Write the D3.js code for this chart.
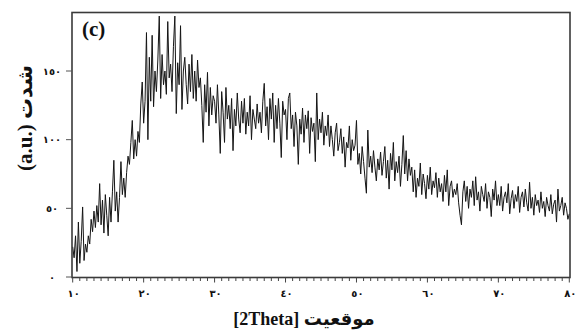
<!DOCTYPE html>
<html><head><meta charset="utf-8">
<script src="https://cdn.jsdelivr.net/npm/d3@7"></script>
<style>body{margin:0;background:#fff}svg{display:block}</style>
</head><body>
<svg id="c" width="577" height="334"></svg>
<script>
// 2Theta sampling grid (degrees) and measured intensity (a.u.)
const angleStart = 10, angleStep = 0.2;
const intensity = [
  22,14,30,4,40,10,26,51,12,24,
  18,30,24,42,33,48,36,52,40,68,
  38,56,32,60,45,30,58,40,62,85,
  48,62,40,58,84,60,72,58,76,88,
  82,98,114,86,100,88,106,98,126,142,
  112,128,178,100,160,128,176,124,150,135,
  158,190,130,162,140,150,133,186,145,155,
  135,168,190,119,156,140,183,122,150,160,
  140,126,155,135,162,130,150,128,158,138,
  145,125,98,140,120,149,110,138,118,132,
  128,112,140,118,90,135,120,98,138,115,
  125,108,130,92,122,110,134,115,105,128,
  112,130,104,120,110,132,100,122,115,108,
  126,112,120,105,128,141,110,124,100,130,
  115,134,98,125,108,130,112,87,128,118,
  122,100,130,134,108,118,95,120,110,82,
  115,104,123,98,118,108,121,90,116,106,
  112,84,134,100,115,105,120,96,110,103,
  118,95,110,100,88,105,112,92,98,108,
  90,102,80,98,94,110,85,100,92,96,
  114,82,90,75,95,84,72,61,107,80,
  88,76,92,80,70,86,78,91,74,84,
  95,72,85,64,90,78,98,70,84,76,
  88,66,82,103,75,92,70,86,74,80,
  62,78,58,72,66,83,60,75,68,57,
  74,64,80,60,70,65,76,58,72,62,
  68,55,74,62,78,52,66,70,58,64,
  60,68,54,45,38,62,70,55,66,50,
  64,58,70,52,73,56,62,48,66,60,
  55,68,50,62,58,44,64,56,70,52,
  60,52,66,48,58,62,54,68,46,57,
  63,50,60,55,66,47,58,62,51,64,
  54,48,69,50,58,45,60,52,56,47,
  62,50,55,44,58,52,48,60,46,53,
  56,40,64,48,52,58,45,54,50,42,
  46
];
const xTicks = [10,20,30,40,50,60,70,80];
const xTickLabels = ["١٠","٢٠","٣٠","٤٠","٥٠","٦٠","٧٠","٨٠"];
const yTicks = [0,50,100,150];
const yTickLabels = ["٠","٥٠","١٠٠","١٥٠"];
const panelLabel = "(c)";
const xTitle = "[2Theta] موقعیت";
const yTitle = "(a.u.) شدت";

const data = intensity.map((v,i)=>({x: angleStart + i*angleStep, y: v}));

const svg = d3.select("#c");
const L = 72, R = 570, T = 12.5, B = 277.5;
const x = d3.scaleLinear().domain([10,80]).range([72.7,569.3]);
const y = d3.scaleLinear().domain([0,150]).range([277,71]);

// data line
svg.append("path").datum(data)
  .attr("fill","none").attr("stroke","#151515").attr("stroke-width",1)
  .attr("d", d3.line().x(d=>x(d.x)).y(d=>y(d.y)));

// frame
svg.append("rect").attr("x",L).attr("y",T).attr("width",R-L).attr("height",B-T)
  .attr("fill","none").attr("stroke","#3a3a3a").attr("stroke-width",1.6);

// x axis ticks (minor every 1 deg)
const minor = d3.range(10,80.01,1);
svg.append("g").selectAll("line").data(minor).join("line")
  .attr("x1",d=>x(d)).attr("x2",d=>x(d))
  .attr("y1",B).attr("y2",d=> d%10===0 ? B+5 : B+3.5)
  .attr("stroke","#444").attr("stroke-width",1);
svg.append("g").selectAll("text").data(xTicks).join("text")
  .attr("x",d=>x(d)+1).attr("y",297)
  .attr("text-anchor","middle")
  .attr("font-family","DejaVu Sans").attr("font-weight","bold").attr("font-size",10)
  .attr("fill","#111")
  .text((d,i)=>xTickLabels[i]);

// y axis ticks
svg.append("g").selectAll("line").data(yTicks).join("line")
  .attr("x1",L-6).attr("x2",L).attr("y1",d=>y(d)).attr("y2",d=>y(d))
  .attr("stroke","#555").attr("stroke-width",1);
svg.append("g").selectAll("text").data(yTicks).join("text")
  .attr("x",52).attr("y",d=>y(d)+3.5)
  .attr("text-anchor","middle")
  .attr("font-family","DejaVu Sans").attr("font-weight","bold").attr("font-size",10)
  .attr("fill","#111")
  .text((d,i)=>yTickLabels[i]);

// panel label
svg.append("text").attr("x",82).attr("y",36)
  .attr("font-family","Liberation Serif").attr("font-weight","bold").attr("font-size",21)
  .attr("fill","#111").text(panelLabel);

// axis titles
svg.append("text").attr("x",304).attr("y",325)
  .attr("text-anchor","middle")
  .attr("font-family","Liberation Serif, DejaVu Sans").attr("font-weight","bold").attr("font-size",18)
  .attr("fill","#111").text(xTitle);
svg.append("text").attr("transform","translate(32,118) rotate(-90)")
  .attr("text-anchor","middle")
  .attr("font-family","Liberation Serif, DejaVu Sans").attr("font-weight","bold").attr("font-size",21)
  .attr("fill","#111").text(yTitle);
</script>
</body></html>
